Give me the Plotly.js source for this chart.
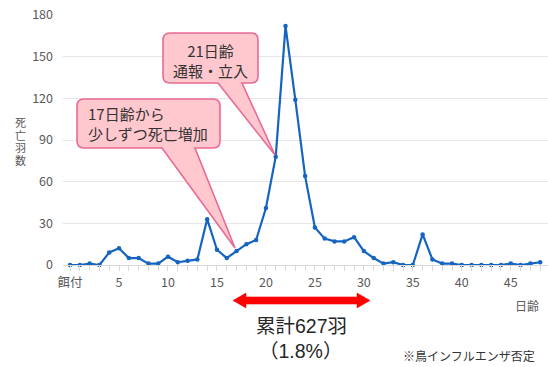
<!DOCTYPE html>
<html>
<head>
<meta charset="utf-8">
<script src="https://cdn.plot.ly/plotly-3.0.1.min.js"></script>
<style>
  html, body { margin: 0; padding: 0; background: #fff; }
  #chart { width: 548px; height: 367px; }
</style>
</head>
<body>
<div id="chart"></div>
<script>
// ---- data ----
const days = [];
for (let d = 0; d <= 48; d++) days.push(d);
const deaths = [0, 0, 1, 0, 9, 12, 5, 5, 1, 1,
                6, 2, 3, 4, 33, 11, 5, 10, 15, 18,
                41, 78, 172, 119, 64, 27, 19, 17, 17, 20,
                10, 5, 1, 2, 0, 0, 22, 4, 1, 1,
                0, 0, 0, 0, 0, 1, 0, 1, 2];
const xTickVals = [0, 5, 10, 15, 20, 25, 30, 35, 40, 45];
const xTickText = ['餌付', '5', '10', '15', '20', '25', '30', '35', '40', '45'];
const yTickVals = [0, 30, 60, 90, 120, 150, 180];
const yTitleChars = ['死', '亡', '羽', '数'];

// ---- layout helpers (pixel -> paper) ----
const L = 63, T = 15, W = 485, H = 250;
const px = x => (x - L) / W;
const py = y => (T + H - y) / H;
const FONT = '"Noto Sans CJK JP", "Noto Sans", sans-serif';
const TIGHT = '"Liberation Sans", "Noto Sans CJK JP", sans-serif';

function callout(l, t, r, b, rad, baseL, baseR, tipX, tipY) {
  const P = (x, y) => px(x) + ',' + py(y);
  return 'M' + P(l + rad, t) +
    ' L' + P(r - rad, t) + ' Q' + P(r, t) + ' ' + P(r, t + rad) +
    ' L' + P(r, b - rad) + ' Q' + P(r, b) + ' ' + P(r - rad, b) +
    ' L' + P(baseR, b) + ' L' + P(tipX, tipY) + ' L' + P(baseL, b) +
    ' L' + P(l + rad, b) + ' Q' + P(l, b) + ' ' + P(l, b - rad) +
    ' L' + P(l, t + rad) + ' Q' + P(l, t) + ' ' + P(l + rad, t) + ' Z';
}
function dblArrow(x1, x2, yc, shaftH, headH, headL) {
  const P = (x, y) => px(x) + ',' + py(y);
  return 'M' + P(x1, yc) +
    ' L' + P(x1 + headL, yc - headH) + ' L' + P(x1 + headL, yc - shaftH) +
    ' L' + P(x2 - headL, yc - shaftH) + ' L' + P(x2 - headL, yc - headH) +
    ' L' + P(x2, yc) +
    ' L' + P(x2 - headL, yc + headH) + ' L' + P(x2 - headL, yc + shaftH) +
    ' L' + P(x1 + headL, yc + shaftH) + ' L' + P(x1 + headL, yc + headH) + ' Z';
}

const trace = {
  x: days, y: deaths, type: 'scatter', mode: 'lines+markers',
  line: { color: '#1565C0', width: 2.2 },
  marker: { color: '#1565C0', size: 4.5 },
  hoverinfo: 'skip', showlegend: false, cliponaxis: false
};

const pink = '#FFC7CE', pinkLine = '#E96A93';

const annotations = [
  { xref: 'paper', yref: 'paper', x: px(210.5), y: py(60), text: '21日齢<br>通報・立入',
    showarrow: false, align: 'center', xanchor: 'center', yanchor: 'middle',
    font: { size: 15, color: '#333333', family: FONT } },
  { xref: 'paper', yref: 'paper', x: px(86), y: py(123), text: '17日齢から<br>少しずつ死亡増加',
    showarrow: false, align: 'left', xanchor: 'left', yanchor: 'middle',
    font: { size: 15, color: '#333333', family: FONT } },
  { xref: 'paper', yref: 'paper', x: px(541), y: py(305), text: '日齢',
    showarrow: false, xanchor: 'right', yanchor: 'middle',
    font: { size: 12, color: '#595959', family: FONT } },
  { xref: 'paper', yref: 'paper', x: px(301), y: py(326), text: '累計627羽',
    showarrow: false, xanchor: 'center', yanchor: 'middle', borderpad: 0,
    font: { size: 19.5, color: '#262626', family: TIGHT } },
  { xref: 'paper', yref: 'paper', x: px(300), y: py(351), text: '（1.8%）',
    showarrow: false, xanchor: 'center', yanchor: 'middle', borderpad: 0,
    font: { size: 19.5, color: '#262626', family: TIGHT } },
  { xref: 'paper', yref: 'paper', x: px(469), y: py(356), text: '※鳥インフルエンザ否定',
    showarrow: false, xanchor: 'center', yanchor: 'middle',
    font: { size: 12, color: '#333333', family: FONT } }
];
yTitleChars.forEach((ch, i) => {
  annotations.push({
    xref: 'paper', yref: 'paper', x: px(20), y: py(123 + i * 12.6), text: ch,
    showarrow: false, xanchor: 'center', yanchor: 'middle', borderpad: 0,
    font: { size: 11, color: '#595959', family: TIGHT }
  });
});

const layout = {
  width: 548, height: 367,
  margin: { l: L, r: 548 - L - W, t: T, b: 367 - T - H },
  paper_bgcolor: '#fff', plot_bgcolor: '#fff',
  font: { family: FONT, color: '#595959', size: 12 },
  xaxis: {
    range: [-0.72, 48.8], tickvals: xTickVals, ticktext: xTickText,
    showgrid: false, zeroline: false, showline: true, linecolor: '#D9D9D9', linewidth: 1,
    ticks: 'outside', ticklen: 5, tickcolor: '#D9D9D9',
    minor: { dtick: 1, tick0: 0, ticks: 'outside', ticklen: 5, tickcolor: '#D9D9D9', showgrid: false },
    tickfont: { size: 12.5, color: '#595959', family: FONT },
    ticklabelstandoff: 1, fixedrange: true
  },
  yaxis: {
    range: [0, 180], tickvals: yTickVals, showgrid: true, gridcolor: '#E6E6E6', gridwidth: 1,
    zeroline: false, showline: false, ticks: '',
    tickfont: { size: 12.5, color: '#595959', family: FONT },
    ticklabelstandoff: 9, fixedrange: true
  },
  shapes: [
    { type: 'path', xref: 'paper', yref: 'paper', layer: 'above',
      path: callout(77, 99, 220, 148, 7, 162, 195, 235, 248),
      fillcolor: pink, line: { color: pinkLine, width: 1.6 } },
    { type: 'path', xref: 'paper', yref: 'paper', layer: 'above',
      path: callout(163, 33, 258, 83, 7, 218, 242, 275, 155),
      fillcolor: pink, line: { color: pinkLine, width: 1.6 } },
    { type: 'path', xref: 'paper', yref: 'paper', layer: 'above',
      path: dblArrow(233, 370, 300.5, 3.6, 7.5, 13),
      fillcolor: '#FF0000', line: { color: '#FF0000', width: 0.5 } }
  ],
  annotations: annotations
};

Plotly.newPlot('chart', [trace], layout, { displayModeBar: false, staticPlot: true });
</script>
</body>
</html>
